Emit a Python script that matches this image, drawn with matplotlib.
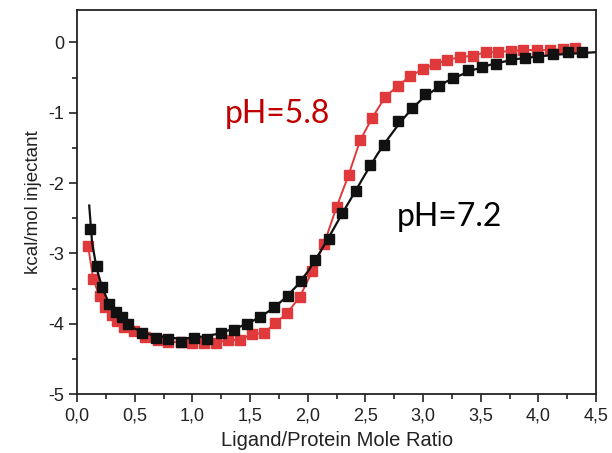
import matplotlib
matplotlib.use("Agg")
import matplotlib.pyplot as plt
from matplotlib.ticker import MultipleLocator, FuncFormatter

# pH 7.2 injections (black)
x_72 = [0.115, 0.17, 0.22, 0.28, 0.335, 0.39, 0.445, 0.56, 0.68, 0.79, 0.90,
        1.015, 1.13, 1.245, 1.36, 1.475, 1.59, 1.71, 1.83, 1.94, 2.06, 2.18,
        2.30, 2.415, 2.54, 2.66, 2.78, 2.90, 3.02, 3.14, 3.26, 3.39, 3.51,
        3.63, 3.76, 3.88, 4.00, 4.13, 4.26, 4.38]
y_72 = [-2.66, -3.18, -3.48, -3.72, -3.83, -3.91, -4.00, -4.13, -4.20, -4.22,
        -4.26, -4.20, -4.22, -4.13, -4.09, -4.00, -3.91, -3.76, -3.60, -3.39,
        -3.09, -2.80, -2.43, -2.12, -1.75, -1.46, -1.12, -0.93, -0.74, -0.62,
        -0.50, -0.40, -0.35, -0.31, -0.24, -0.22, -0.21, -0.17, -0.14, -0.14]

# fitted curve for pH 7.2
fit_x_72 = [0.105, 0.13, 0.17, 0.22, 0.28, 0.34, 0.40, 0.50, 0.60, 0.70, 0.80,
            0.90, 1.00, 1.10, 1.20, 1.30, 1.40, 1.50, 1.60, 1.70, 1.80, 1.90,
            2.00, 2.10, 2.20, 2.30, 2.40, 2.50, 2.60, 2.70, 2.80, 2.90, 3.00,
            3.20, 3.40, 3.60, 3.80, 4.00, 4.20, 4.50]
fit_y_72 = [-2.32, -2.85, -3.22, -3.50, -3.72, -3.86, -3.96, -4.07, -4.14,
            -4.18, -4.20, -4.21, -4.20, -4.18, -4.15, -4.10, -4.05, -3.98,
            -3.89, -3.78, -3.64, -3.47, -3.26, -3.00, -2.72, -2.43, -2.15,
            -1.87, -1.60, -1.36, -1.14, -0.95, -0.79, -0.56, -0.41, -0.31,
            -0.24, -0.20, -0.17, -0.14]

# pH 5.8 injections (red)
x_58 = [0.095, 0.14, 0.195, 0.245, 0.30, 0.35, 0.405, 0.49, 0.59, 0.70, 0.79,
        0.90, 1.00, 1.10, 1.20, 1.31, 1.41, 1.515, 1.62, 1.72, 1.82, 1.93,
        2.04, 2.14, 2.25, 2.355, 2.455, 2.56, 2.67, 2.78, 2.89, 3.00, 3.105,
        3.21, 3.32, 3.43, 3.545, 3.65, 3.76, 3.87, 3.99, 4.10, 4.21, 4.32]
y_58 = [-2.89, -3.37, -3.61, -3.76, -3.88, -3.96, -4.04, -4.11, -4.19, -4.23,
        -4.26, -4.26, -4.28, -4.27, -4.27, -4.23, -4.23, -4.15, -4.13, -3.99,
        -3.85, -3.62, -3.25, -2.87, -2.34, -1.88, -1.39, -1.07, -0.78, -0.62,
        -0.48, -0.38, -0.31, -0.25, -0.21, -0.19, -0.14, -0.14, -0.12, -0.11,
        -0.11, -0.11, -0.10, -0.08]

red = "#e0393b"
black = "#111111"
sans = ["Liberation Sans", "DejaVu Sans"]

fig = plt.figure(figsize=(6.12, 4.53), dpi=100)
ax = fig.add_axes([0.126, 0.130, 0.848, 0.848])

ax.plot(x_58, y_58, color=red, lw=1.4, marker="s", ms=6.5,
        mfc=red, mec=red, zorder=2)
ax.plot(fit_x_72, fit_y_72, color=black, lw=1.6, zorder=3)
ax.plot(x_72, y_72, ls="none", marker="s", ms=6.5, mfc=black, mec=black,
        zorder=4)

ax.text(1.283, -1.02, "pH=5.8", color="#c00000", fontsize=23,
        family=["Lato", "DejaVu Sans"], va="center", ha="left")
ax.text(2.775, -2.48, "pH=7.2", color="black", fontsize=23,
        family=["Lato", "DejaVu Sans"], va="center", ha="left")

ax.set_xlim(0, 4.5)
ax.set_ylim(-5, 0.46)
ax.xaxis.set_major_locator(MultipleLocator(0.5))
ax.xaxis.set_minor_locator(MultipleLocator(0.25))
ax.yaxis.set_major_locator(MultipleLocator(1))
ax.yaxis.set_minor_locator(MultipleLocator(0.5))
ax.xaxis.set_major_formatter(FuncFormatter(lambda v, p: f"{v:.1f}".replace(".", ",")))
ax.yaxis.set_major_formatter(FuncFormatter(lambda v, p: f"{v:.0f}"))

ax.tick_params(which="both", direction="out", top=False, right=False,
               width=1.2, labelsize=13, colors="#222222")
ax.tick_params(which="major", length=6)
ax.tick_params(which="minor", length=3.5)
for s in ax.spines.values():
    s.set_linewidth(1.3)
    s.set_color("#222222")

for lbl in ax.get_xticklabels() + ax.get_yticklabels():
    lbl.set_family(sans)

ax.set_xlabel("Ligand/Protein Mole Ratio", fontsize=14.5, family=sans,
              color="#222222", labelpad=5)
ax.set_ylabel("kcal/mol injectant", fontsize=13.5, family=sans,
              color="#222222")

fig.savefig("out.png", dpi=100)
